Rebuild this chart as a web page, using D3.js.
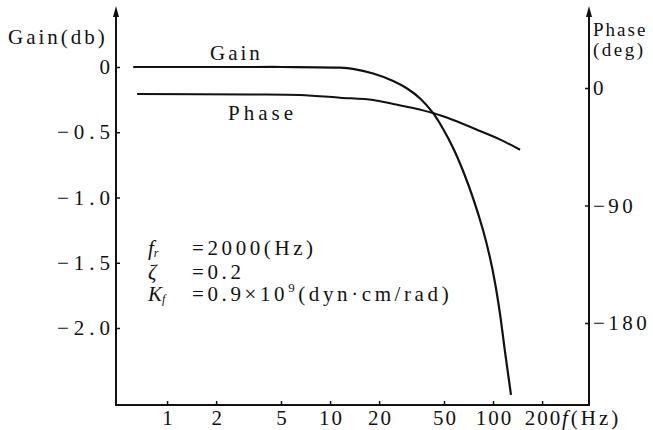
<!DOCTYPE html>
<html>
<head>
<meta charset="utf-8">
<script src="https://cdn.jsdelivr.net/npm/d3@7"></script>
<style>
  body { margin: 0; background: #fff; }
  svg text { font-family: "Liberation Serif", "DejaVu Serif", serif; fill: #111; }
</style>
</head>
<body>
<svg id="chart" width="653" height="430"></svg>
<script>
// tick values
var freqTicks = [1, 2, 5, 10, 20, 50, 100, 200];
var gainTicks = [0, -0.5, -1.0, -1.5, -2.0];
var phaseTicks = [0, -90, -180];

// gain curve (db)
var gainFreq = [0.62, 2, 5, 11.5, 13.8, 18.4, 24.4, 29.7, 35.7, 42.8, 49.4, 56.9, 65.5, 75.4, 86.8, 95.9, 102.9, 110.4, 118.5, 128.9];
var gainDb   = [0, 0, 0, -0.005, -0.014, -0.05, -0.107, -0.165, -0.241, -0.352, -0.475, -0.621, -0.797, -1.004, -1.249, -1.464, -1.655, -1.893, -2.184, -2.513];

// phase curve (deg)
var phaseFreq = [0.655, 3.2, 6.5, 11.5, 18.4, 24.4, 32.3, 42.8, 56.9, 83.2, 110, 146.5];
var phaseDeg  = [-4.6, -5, -5.4, -7.4, -9.2, -12.3, -15.3, -19.2, -24.5, -32.9, -39.4, -47.3];

var svg = d3.select("#chart");
svg.append("rect").attr("width", 653).attr("height", 430).attr("fill", "#fff");

var x = d3.scaleLog().domain([0.486, 388]).range([116, 589]),
    yGain = d3.scaleLinear().domain([0, -2]).range([67, 328]),
    yPhase = d3.scaleLinear().domain([0, -180]).range([88, 323]),
    axisTop = 12, axisBottom = 405;

var minus = function (v, digits) {
    if (v === 0) return "0";
    return "\u2212" + Math.abs(v).toFixed(digits);
};

// axis lines (drawn by hand so they run past the tick range)
svg.append("path")
    .attr("d", "M" + x.range()[0] + "," + axisTop + "V" + axisBottom + "H" + x.range()[1] + "V" + axisTop)
    .attr("fill", "none").attr("stroke", "#111").attr("stroke-width", 2);

// arrow heads
[x.range()[0], x.range()[1]].forEach(function (ax) {
    svg.append("path")
        .attr("d", "M" + ax + "," + (axisTop - 6) + "L" + (ax - 3) + "," + (axisTop + 5) + "L" + (ax + 3) + "," + (axisTop + 5) + "Z")
        .attr("fill", "#111");
});

var gLeft = svg.append("g")
    .attr("transform", "translate(" + x.range()[0] + ",0)")
    .call(d3.axisLeft(yGain).tickValues(gainTicks).tickSizeInner(-4).tickSizeOuter(0).tickPadding(1)
        .tickFormat(function (d) { return minus(d, 1); }));

var gRight = svg.append("g")
    .attr("transform", "translate(" + x.range()[1] + ",0)")
    .call(d3.axisRight(yPhase).tickValues(phaseTicks).tickSizeInner(-4).tickSizeOuter(0).tickPadding(4)
        .tickFormat(function (d) { return minus(d, 0); }));

var gBottom = svg.append("g")
    .attr("transform", "translate(0," + axisBottom + ")")
    .call(d3.axisBottom(x).tickValues(freqTicks).tickSizeInner(-4).tickSizeOuter(0).tickPadding(5)
        .tickFormat(d3.format("d")));

[[gLeft, 5], [gRight, 3.5], [gBottom, 2]].forEach(function (p) {
    var g = p[0];
    g.select(".domain").remove();
    g.selectAll(".tick line").attr("stroke", "#111").attr("stroke-width", 1.5);
    g.selectAll(".tick text")
        .attr("font-family", "Liberation Serif, DejaVu Serif, serif")
        .attr("font-size", 21)
        .attr("fill", "#111")
        .style("letter-spacing", p[1] + "px");
});
gBottom.selectAll(".tick text").attr("dx", 1);

// curves
var gainLine = d3.line()
    .x(function (d, i) { return x(gainFreq[i]); })
    .y(function (d) { return yGain(d); })
    .curve(d3.curveCatmullRom.alpha(0.5));

var phaseLine = d3.line()
    .x(function (d, i) { return x(phaseFreq[i]); })
    .y(function (d) { return yPhase(d); })
    .curve(d3.curveCatmullRom.alpha(0.5));

svg.append("path").attr("d", gainLine(gainDb))
    .attr("fill", "none").attr("stroke", "#111").attr("stroke-width", 2.2);
svg.append("path").attr("d", phaseLine(phaseDeg))
    .attr("fill", "none").attr("stroke", "#111").attr("stroke-width", 2);

// labels
function label(txt, lx, ly, opts) {
    opts = opts || {};
    return svg.append("text").attr("x", lx).attr("y", ly)
        .attr("font-size", opts.size || 21)
        .style("letter-spacing", (opts.ls || 2) + "px")
        .text(txt);
}
label("Gain(db)", 8, 44, {ls: 3});
label("Gain", 210, 60, {ls: 3});
label("Phase", 228, 120, {ls: 4});
label("Phase", 593, 36, {ls: 2, size: 19});
label("(deg)", 593, 56, {ls: 2.5, size: 19});

// f(Hz) unit on the x axis
var fx = svg.append("text").attr("x", 562).attr("y", 425).attr("font-size", 21).style("letter-spacing", "3px");
fx.append("tspan").attr("font-style", "italic").text("f");
fx.append("tspan").text("(Hz)");

// parameter block
var rows = [
    {sym: "f", sub: "r", val: "=2000(Hz)", y: 255},
    {sym: "\u03b6", sub: "", val: "=0.2", y: 279},
    {sym: "K", sub: "f", val: "=0.9\u00d710", sup: "9", tail: "(dyn\u00b7cm/rad)", y: 301}
];
rows.forEach(function (r) {
    var t = svg.append("text").attr("x", 148).attr("y", r.y).attr("font-size", 21);
    t.append("tspan").attr("font-style", "italic").text(r.sym);
    if (r.sub) t.append("tspan").attr("font-style", "italic").attr("font-size", 12).attr("dy", 2).text(r.sub);
    var v = svg.append("text").attr("x", 192).attr("y", r.y).attr("font-size", 21).style("letter-spacing", "3.6px");
    v.append("tspan").text(r.val);
    if (r.sup) {
        v.append("tspan").attr("font-size", 13).attr("dy", -9).text(r.sup);
        v.append("tspan").attr("dy", 9).text(r.tail);
    }
});
</script>
</body>
</html>
